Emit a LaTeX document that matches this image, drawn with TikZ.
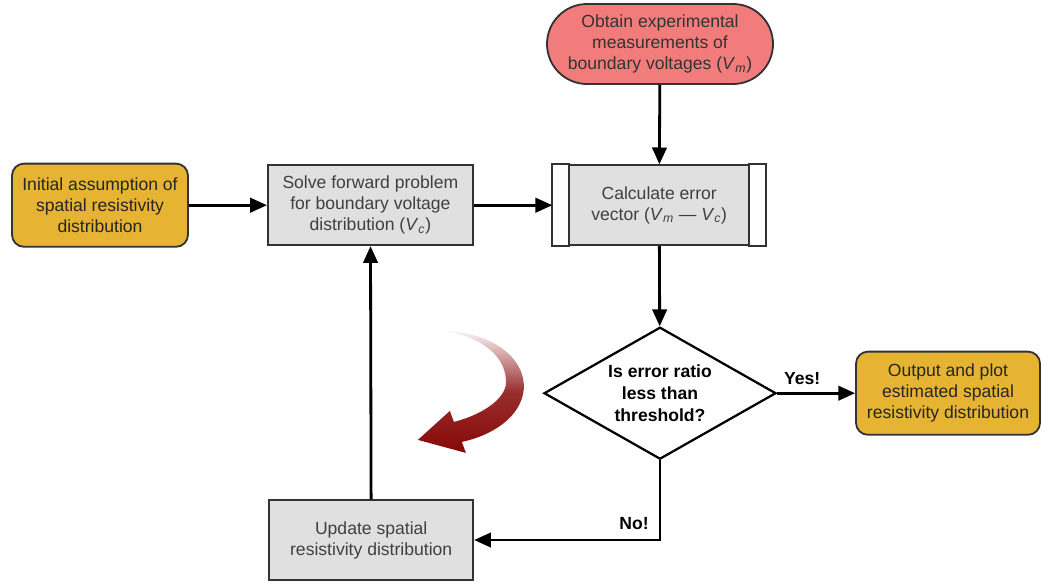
\documentclass[tikz,border=0pt]{standalone}
\usepackage{fontspec}
\setmainfont{Liberation Sans}
\usetikzlibrary{arrows.meta,positioning,calc,shapes.geometric}
\definecolor{termred}{RGB}{242,124,124}
\definecolor{gold}{RGB}{230,180,50}
\definecolor{boxgray}{RGB}{224,224,224}
\definecolor{edge}{RGB}{50,50,50}
\definecolor{loopred}{RGB}{135,8,8}
\newcommand{\volt}[1]{\textit{V}\textsubscript{\textit{#1}}}
\tikzset{
  box/.style={draw=edge, line width=1.3pt, fill=boxgray, align=center, text=black!75, inner sep=2pt, minimum height=2cm, font=\fontsize{12.5}{15}\selectfont},
  endbox/.style={box, fill=gold, text=black!85, rounded corners=3mm, minimum height=2.08cm},
  termbox/.style={box, fill=termred, text=black!80, rounded corners=1cm},
  arrow/.style={-{Triangle[length=4.2mm,width=3.6mm]}, line width=2pt},
  lbl/.style={font=\bfseries\fontsize{12.5}{15}\selectfont}
}

\begin{document}
\begin{tikzpicture}[
  decision/.style={diamond, draw=black, line width=1.6pt, fill=white, align=center, inner sep=0pt, shape aspect=1.76, minimum width=5.8cm, minimum height=3.3cm, font=\bfseries\fontsize{12.5}{15.5}\selectfont}
]
\useasboundingbox (0,0) rectangle (26.1,-14.625);
% top row
\node[termbox, minimum width=5.65cm] (meas) at (16.5,-1.1) {Obtain experimental\\measurements of\\boundary voltages (\volt{m})};
\node[endbox, minimum width=4.4cm] (init) at (2.5,-5.13) {Initial assumption of\\spatial resistivity\\distribution};
\node[box, minimum width=5.125cm] (solve) at (9.26,-5.13) {Solve forward problem\\for boundary voltage\\distribution (\volt{c})};
\node[box, minimum width=5.3cm] (calc) at (16.48,-5.13) {Calculate error\\vector (\volt{m} --- \volt{c})};
\draw[line width=1.3pt, draw=edge, fill=white] (calc.north west) rectangle ($(calc.south west)+(0.42,0)$);
\draw[line width=1.3pt, draw=edge, fill=white] (calc.north east) rectangle ($(calc.south east)+(-0.42,0)$);
% decision and outputs
\node[decision] (check) at (16.5,-9.83) {Is error ratio\\less than\\threshold?};
\node[endbox, minimum width=4.6cm] (out) at (23.7,-9.83) {Output and plot\\estimated spatial\\resistivity distribution};
\node[box, minimum width=5.1cm] (update) at (9.28,-13.5) {Update spatial\\resistivity distribution};
\draw[arrow] (meas) -- (calc);
\draw[arrow] (init) -- (solve);
\draw[arrow] (solve) -- (calc);
\draw[arrow] (calc) -- (check);
\draw[arrow] (check) -- node[lbl, pos=0.32, above=2pt] {Yes!} (out);
\draw[arrow] (check.south) |- node[lbl, pos=0.57, above=3pt] {No!} (update);
\draw[arrow] (update) -- (solve);
% iteration hint
\begin{scope}[x=0.025cm, y=-0.025cm]
\shade[top color=loopred!5, bottom color=loopred, middle color=loopred!85]
  (445,331) .. controls (500,333) and (530,365) .. (523,395)
  .. controls (517,420) and (490,436) .. (462,442)
  -- (466,453) -- (418,440) -- (450,411) -- (454,422)
  .. controls (478,416) and (503,402) .. (506,385)
  .. controls (508,357) and (482,337) .. (445,331) -- cycle;
\end{scope}
\end{tikzpicture}
\end{document}
